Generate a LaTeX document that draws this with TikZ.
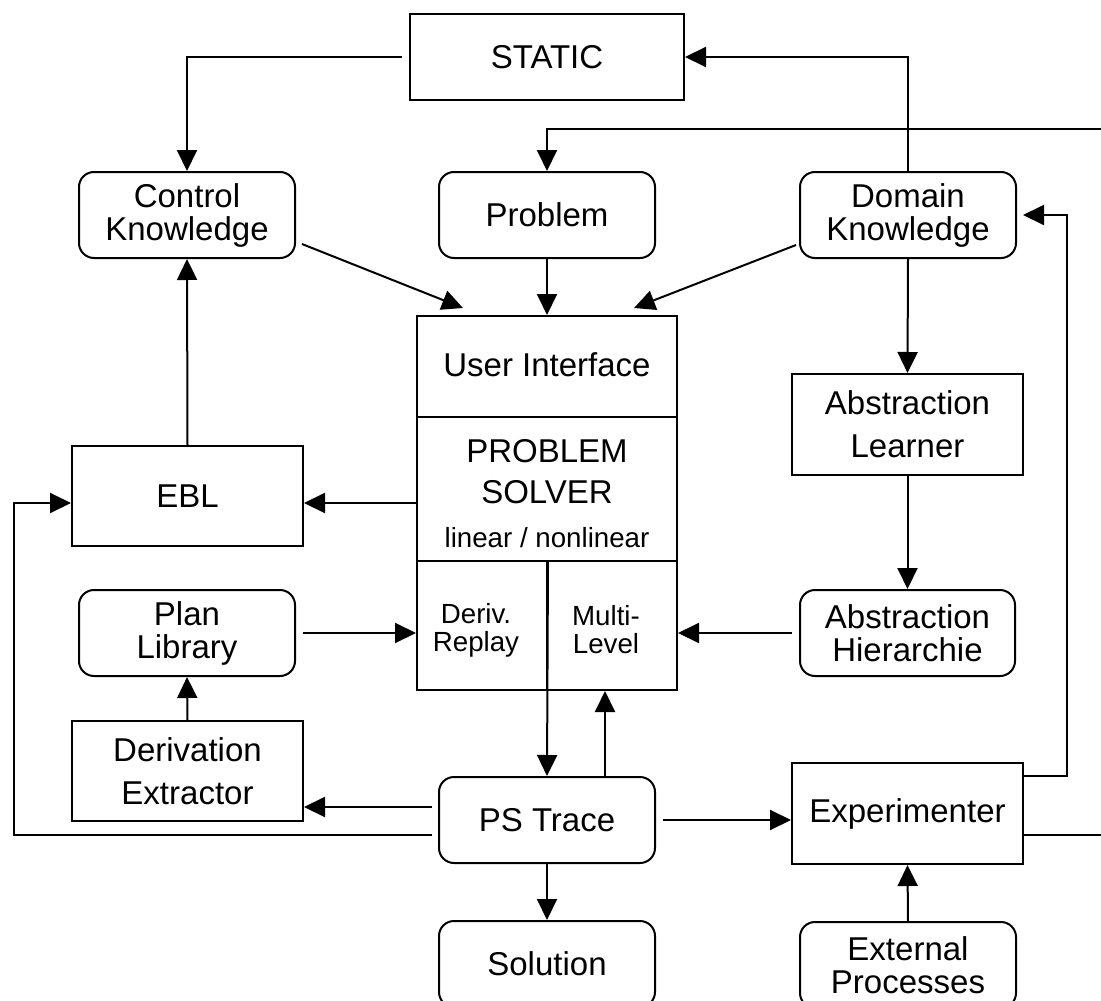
\documentclass[tikz,border=0pt]{standalone}
\usepackage{fontspec}
\setmainfont{Liberation Sans}
\usetikzlibrary{arrows.meta,calc}
\begin{document}
\begin{tikzpicture}[x=1pt,y=-1pt,
  line width=2pt,
  box/.style={draw, line width=2pt, inner sep=0pt, align=center,
    font=\fontsize{33}{43}\selectfont},
  rbox/.style={box, rounded corners=15pt, font=\fontsize{33}{33}\selectfont},
  smalltext/.style={inner sep=0pt, align=center, font=\fontsize{27.7}{28}\selectfont},
  bigtext/.style={inner sep=0pt, font=\fontsize{33}{33}\selectfont},
  arr/.style={-{Triangle[length=21pt,width=20pt]}}
]
\useasboundingbox (0,0) rectangle (1101,1001);

% top row
\node[box, minimum width=274pt, minimum height=86pt] (static) at (547,57) {STATIC};
\node[rbox, minimum width=216pt, minimum height=86pt] (ck) at (187,215) {Control\\Knowledge};
\node[rbox, minimum width=216pt, minimum height=86pt] (prob) at (547,215) {Problem};
\node[rbox, minimum width=216pt, minimum height=86pt] (dk) at (908,215) {Domain\\Knowledge};

% problem solver block
\node[box, minimum width=260pt, minimum height=101pt] (ui) at (547,366.5) {};
\node[bigtext, anchor=base] (uitxt) at (547,376) {User Interface};
\node[box, minimum width=260pt, minimum height=144pt] (ps) at (547,489) {};
\node[bigtext, anchor=base] (pstxt1) at (547,462) {PROBLEM};
\node[bigtext, anchor=base] (pstxt2) at (547,503) {SOLVER};
\node[smalltext, anchor=base] (pstxt3) at (547,547) {linear / nonlinear};
\node[box, minimum width=130pt, minimum height=129pt] (dr) at (482,625.5) {};
\node[box, minimum width=130pt, minimum height=129pt] (ml) at (612,625.5) {};
\node[smalltext] (drtxt) at (476,630) {Deriv.\\Replay};
\node[smalltext] (mltxt) at (606,630) {Multi-\\Level};

% left column
\node[box, minimum width=231pt, minimum height=100pt] (ebl) at (187.5,496) {EBL};
\node[rbox, minimum width=216pt, minimum height=86pt] (pl) at (187,633) {Plan\\Library};
\node[box, minimum width=231pt, minimum height=100pt] (de) at (187.5,771) {Derivation\\Extractor};

% right column
\node[box, minimum width=231pt, minimum height=101pt] (abl) at (907.5,424.5) {Abstraction\\Learner};
\node[rbox, minimum width=215pt, minimum height=86pt] (abh) at (907.5,633) {Abstraction\\Hierarchie};
\node[box, minimum width=231pt, minimum height=101pt] (exp) at (907.5,813.5) {Experimenter};
\node[rbox, minimum width=216pt, minimum height=86pt] (ext) at (908,965) {External\\Processes};

% bottom middle
\node[rbox, minimum width=216pt, minimum height=86pt] (pst) at (547,820) {PS Trace};
\node[rbox, minimum width=216pt, minimum height=86pt] (sol) at (547,964) {Solution};

% free ends and bend points
\coordinate (inProb) at (1110,129);
\coordinate (outExp) at (1110,835);
\coordinate (ckOut) at (302,244);
\coordinate (uiInL) at (463,308);
\coordinate (dkOut) at (796,245);
\coordinate (uiInR) at (634,308);
\coordinate (loopL) at (14,503);
\coordinate (trUp) at ($(pst.north)+(58,0)$);

% connectors
\draw[arr] ($(static.west)+(-7,0)$) -| (ck.north);
\draw[arr] (dk.north) |- (static.east);
\draw[arr] (inProb) -| (prob.north);
\draw[arr] (ckOut) -- (uiInL);
\draw[arr] (prob.south) -- (ui.north);
\draw[arr] (dkOut) -- (uiInR);
\draw[arr] (dk.south) -- (abl.north);
\draw[arr] (abl.south) -- (abh.north);
\draw[arr] ($(abh.west)+(-7,0)$) -- (abh.west -| ml.east);
\draw[arr] ($(ps.west |- ebl.east)+(0,7)$) -- ($(ebl.east)+(0,7)$);
\draw[arr] (ebl.north) -- (ck.south);
\draw[arr] ($(pst.west)+(-6,15)$) -| (loopL) -- (loopL -| ebl.west);
\draw[arr] ($(pst.west)+(-6,-13)$) -- ($(de.east |- pst.west)+(0,-13)$);
\draw[arr] ($(pl.east)+(7,0)$) -- (pl.east -| dr.west);
\draw[arr] (de.north) -- (pl.south);
\draw[arr] (dr.north east) -- (pst.north);
\draw[arr] (trUp) -- (trUp |- ml.south);
\draw[arr] ($(pst.east)+(7,0)$) -- (pst.east -| exp.west);
\draw[arr] (pst.south) -- (sol.north);
\draw[arr] (ext.north) -- (exp.south);
\draw[arr] ($(exp.north east)+(0,14)$) -| ($(dk.east)+(50,0)$) -- ($(dk.east)+(6,0)$);
\draw ($(exp.east)+(0,21.5)$) -- (outExp);
\end{tikzpicture}
\end{document}
